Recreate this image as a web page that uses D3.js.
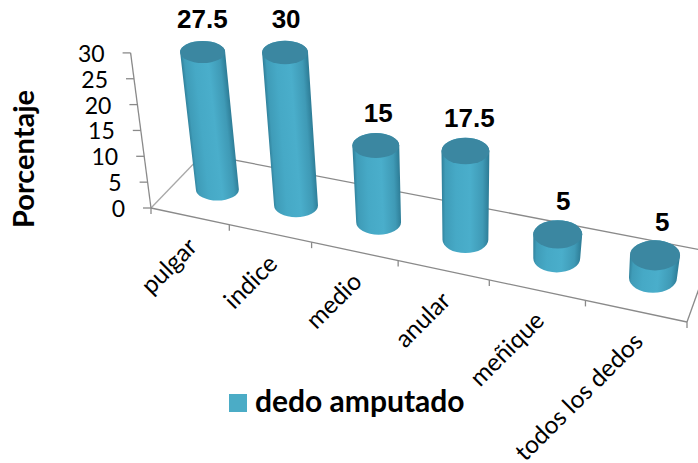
<!DOCTYPE html>
<html>
<head>
<meta charset="utf-8">
<script src="https://cdn.jsdelivr.net/npm/d3@7"></script>
<style>
body { margin: 0; background: #fff; }
svg { display: block; }
.lbl { font-family: Arial, "Liberation Sans", sans-serif; font-weight: bold; font-size: 26px; fill: #000; text-anchor: middle; }
.tick { font-family: Lato, sans-serif; font-size: 23px; fill: #000; }
</style>
</head>
<body>
<svg id="plot"></svg>
<script>
var width = 698;
var height = 463;
var svg = d3.select("#plot").attr("width", width).attr("height", height);

var categorias = ["pulgar", "indice", "medio", "anular", "meñique", "todos los dedos"];
var porcentajes = [27.5, 30, 15, 17.5, 5, 5];
var ticksY = [0, 5, 10, 15, 20, 25, 30];
var serie = "dedo amputado";
var tituloY = "Porcentaje";

var grey = "#8a8a8a";

// floor corners on screen: front left, front right, back right, back left
var floor = [[151, 208], [687, 322], [712, 252], [203, 154]];

var homography = (function (q) {
    var dx1 = q[1][0] - q[2][0], dx2 = q[3][0] - q[2][0], sx = q[0][0] - q[1][0] + q[2][0] - q[3][0];
    var dy1 = q[1][1] - q[2][1], dy2 = q[3][1] - q[2][1], sy = q[0][1] - q[1][1] + q[2][1] - q[3][1];
    var den = dx1 * dy2 - dx2 * dy1;
    var g = (sx * dy2 - dx2 * sy) / den;
    var h = (dx1 * sy - sx * dy1) / den;
    var a = q[1][0] - q[0][0] + g * q[1][0];
    var b = q[3][0] - q[0][0] + h * q[3][0];
    var d = q[1][1] - q[0][1] + g * q[1][1];
    var e = q[3][1] - q[0][1] + h * q[3][1];
    return function (u, v) {
        var w = g * u + h * v + 1;
        return [(a * u + b * v + q[0][0]) / w, (d * u + e * v + q[0][1]) / w];
    };
})(floor);

var xScale = d3.scaleBand().domain(categorias).range([0, 1]);
// verticals lean towards a vanishing point, so both depend on screen x
var leanScale = d3.scaleLinear().domain([151, 650]).range([-0.68, 0.4]);
var unitScale = d3.scaleLinear().domain([151, 217, 296, 450, 650]).range([5.17, 5.0, 5.1, 5.12, 4.5]);
var rxScale = d3.scaleLinear().domain([217, 650]).range([22.5, 25]);
var ryScale = d3.scaleLinear().domain([217, 650]).range([11, 15]);
var yScale = d3.scaleLinear().domain([0, 30]).range([0, 30]);

function up(p, value) {
    return [p[0] + leanScale(p[0]) * yScale(value), p[1] - unitScale(p[0]) * yScale(value)];
}

function line(a, b) {
    return svg.append("line")
        .attr("x1", a[0]).attr("y1", a[1])
        .attr("x2", b[0]).attr("y2", b[1])
        .attr("stroke", grey).attr("stroke-width", 1.3);
}

// floor outline behind the bars
line(floor[0], floor[3]).attr("stroke", "#a8a8a8");
line(floor[3], floor[2]);
line(floor[1], floor[2]);
line(floor[0], floor[1]);

// category axis ticks
var edges = categorias.map(function (c) { return xScale(c); }).concat([1]);
edges.forEach(function (u) {
    var p = homography(u, 0);
    line(p, [p[0], p[1] + 6]);
});

// value axis
var origin = homography(0, 0);
line(origin, up(origin, 30));
ticksY.forEach(function (t) {
    var p = up(origin, t);
    line(p, [p[0] - 8, p[1]]);
    svg.append("text")
        .attr("class", "tick")
        .attr("text-anchor", "end")
        .attr("x", p[0] - 26)
        .attr("y", p[1] + 9)
        .text(t);
});

var defs = svg.append("defs");

var bars = categorias.map(function (c, i) {
    var base = homography(xScale(c) + xScale.bandwidth() / 2 + 0.006, 0.48);
    return {name: c, value: porcentajes[i], i: i, base: base, top: up(base, porcentajes[i])};
});

bars.forEach(function (d) {
    var rx = rxScale(d.base[0]);
    var rxb = rx - 1;
    var ry = ryScale(d.base[0]);
    var ax = d.top[0] - d.base[0], ay = d.top[1] - d.base[1];
    var len = Math.sqrt(ax * ax + ay * ay);
    var nx = -ay / len, ny = ax / len;
    var mx = (d.top[0] + d.base[0]) / 2, my = (d.top[1] + d.base[1]) / 2;

    var grad = defs.append("linearGradient")
        .attr("id", "cyl" + d.i)
        .attr("gradientUnits", "userSpaceOnUse")
        .attr("x1", mx - nx * rx).attr("y1", my - ny * rx)
        .attr("x2", mx + nx * rx).attr("y2", my + ny * rx);
    [[0, "#2f7e98"], [0.08, "#3f9cb8"], [0.3, "#46a9c6"], [0.6, "#4aaecb"], [0.86, "#3f9ab6"], [1, "#2c7a94"]].forEach(function (s) {
        grad.append("stop").attr("offset", s[0]).attr("stop-color", s[1]);
    });

    svg.append("path")
        .attr("fill", "url(#cyl" + d.i + ")")
        .attr("d", "M" + (d.top[0] - rx) + "," + d.top[1]
            + "L" + (d.base[0] - rxb) + "," + d.base[1]
            + "A" + rxb + "," + ry + " 0 0 0 " + (d.base[0] + rxb) + "," + d.base[1]
            + "L" + (d.top[0] + rx) + "," + d.top[1]
            + "A" + rx + "," + ry + " 0 0 0 " + (d.top[0] - rx) + "," + d.top[1] + "Z");

    svg.append("ellipse")
        .attr("cx", d.top[0]).attr("cy", d.top[1])
        .attr("rx", rx).attr("ry", ry)
        .attr("fill", "#3b87a1");

    svg.append("text")
        .attr("class", "lbl")
        .attr("x", d.top[0] + 4 + 8 * leanScale(d.base[0]))
        .attr("y", d.top[1] - 24)
        .text(d.value);

    var front = homography(xScale(d.name) + xScale.bandwidth() / 2, 0);
    svg.append("text")
        .attr("class", "tick")
        .attr("text-anchor", "end")
        .style("font-size", "24.5px")
        .attr("transform", "translate(" + (front[0] + 9) + "," + (front[1] + 32) + ") rotate(-45)")
        .text(d.name);
});

// axis title
svg.append("text")
    .attr("transform", "translate(34,159) rotate(-90)")
    .attr("text-anchor", "middle")
    .style("font-family", "Lato, sans-serif")
    .style("font-weight", "bold")
    .style("font-size", "29px")
    .text(tituloY);

// legend
svg.append("rect")
    .attr("x", 229).attr("y", 394)
    .attr("width", 18).attr("height", 18)
    .attr("fill", "#4bacc6");
svg.append("text")
    .attr("x", 255).attr("y", 412)
    .style("font-family", "Lato, sans-serif")
    .style("font-weight", "bold")
    .style("font-size", "30px")
    .text(serie);
</script>
</body>
</html>
